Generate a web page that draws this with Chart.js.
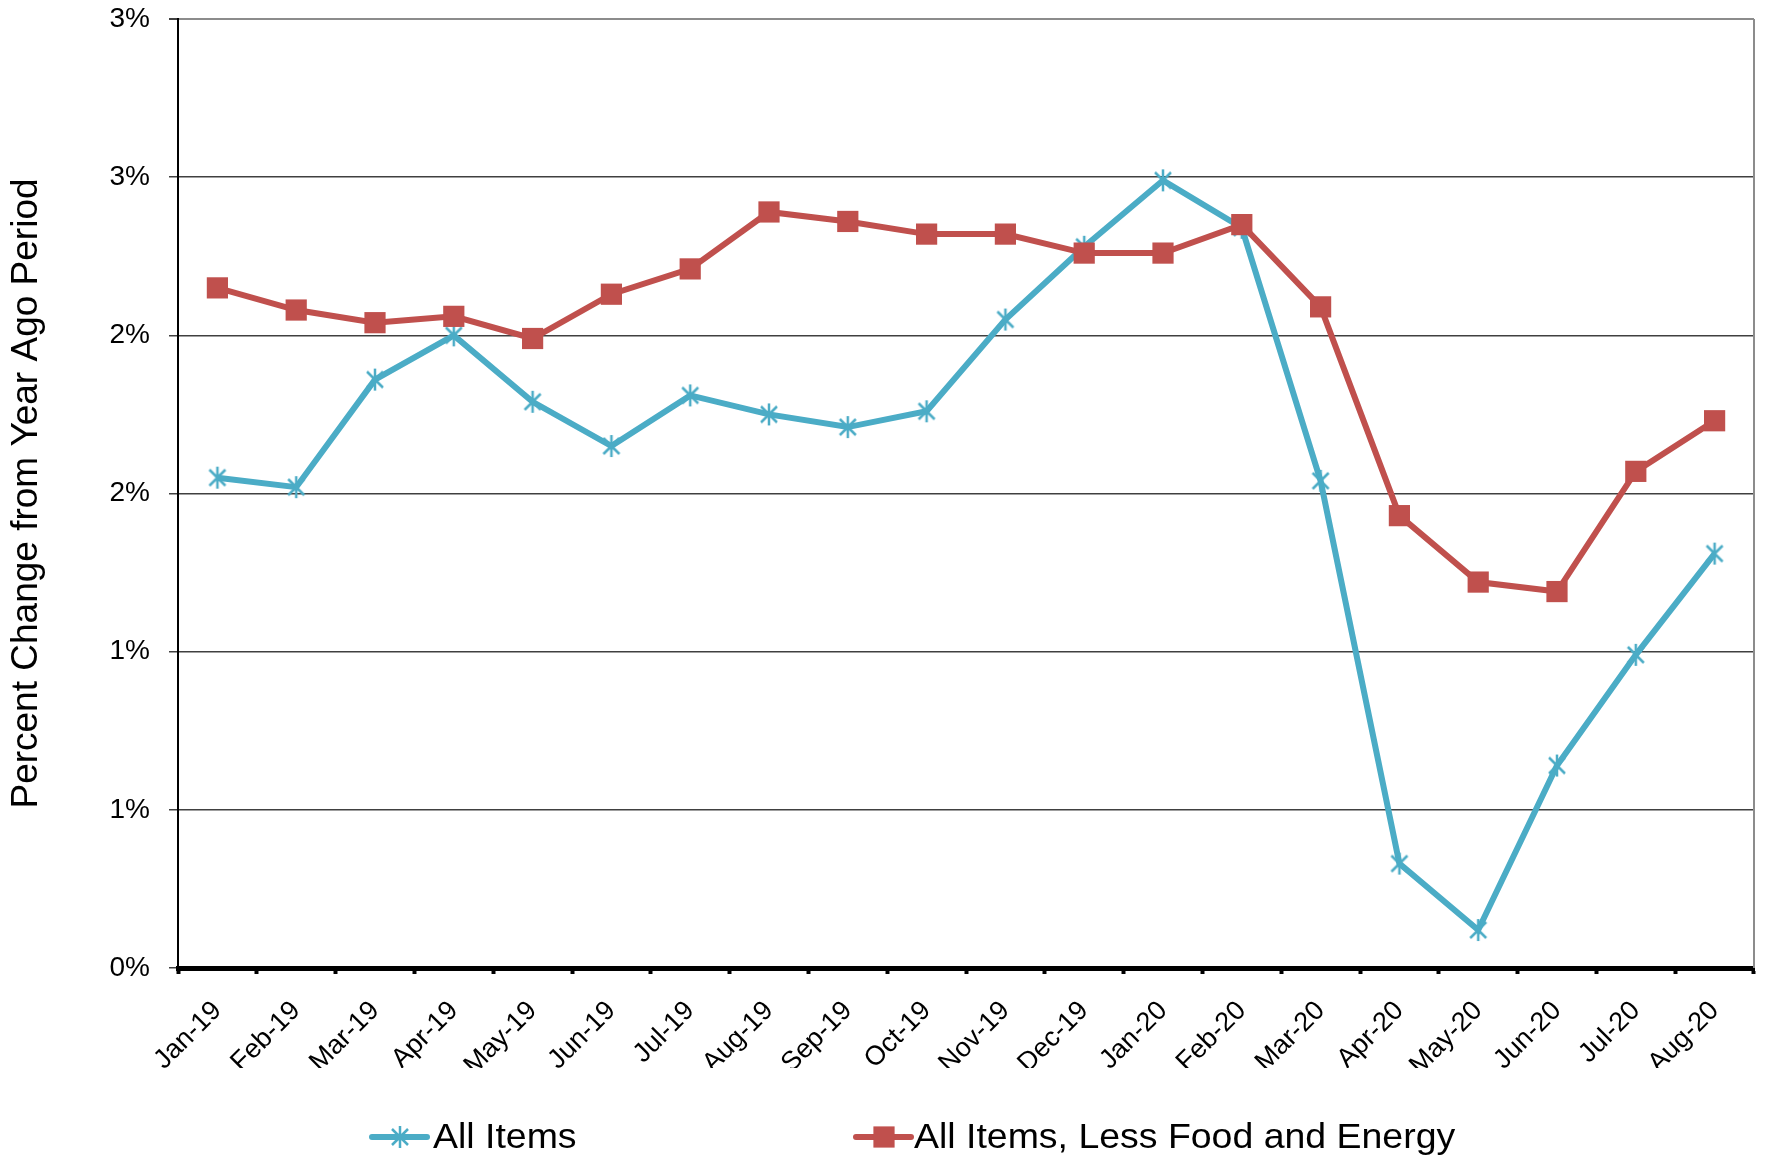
<!DOCTYPE html>
<html>
<head>
<meta charset="utf-8">
<title>CPI - Percent Change from Year Ago Period</title>
<script src="https://cdn.jsdelivr.net/npm/chart.js"></script>
<style>
  html, body { margin: 0; padding: 0; background: #fff; }
  #wrap { width: 1770px; height: 1158px; }
</style>
</head>
<body>
<div id="wrap"><canvas id="cpiChart" width="1770" height="1158"></canvas></div>
<script>
/* ---------- DATA ---------- */
const months = [
  'Jan-19', 'Feb-19', 'Mar-19', 'Apr-19', 'May-19', 'Jun-19', 'Jul-19', 'Aug-19', 'Sep-19', 'Oct-19',
  'Nov-19', 'Dec-19', 'Jan-20', 'Feb-20', 'Mar-20', 'Apr-20', 'May-20', 'Jun-20', 'Jul-20', 'Aug-20'
];

// All Items (percent)
const allItems = [
  1.55, 1.52, 1.86, 2.00, 1.79, 1.65, 1.81, 1.75, 1.71, 1.76,
  2.05, 2.28, 2.49, 2.34, 1.54, 0.33, 0.12, 0.64, 0.99, 1.31
];

// All Items, Less Food and Energy (percent)
const coreItems = [
  2.15, 2.08, 2.04, 2.06, 1.99, 2.13, 2.21, 2.39, 2.36, 2.32,
  2.32, 2.26, 2.26, 2.35, 2.09, 1.43, 1.22, 1.19, 1.57, 1.73
];

const seriesNames = ['All Items', 'All Items, Less Food and Energy'];

// the source chart rounds its axis labels to whole percents
const yTickLabels = ['0%', '1%', '1%', '2%', '2%', '3%', '3%'];

/* ---------- STYLE ---------- */
const FONT = '"Liberation Sans", Arial, Helvetica, sans-serif';
const BLUE = '#4BACC6';
const RED = '#C0504D';
const legendX = [372, 856];
const legendTextGap = [61, 58];
const legendY = 1137;

// spreadsheet-style star marker: an X with a vertical stroke
function makeStar(color) {
  const c = document.createElement('canvas');
  c.width = 24; c.height = 24;
  const g = c.getContext('2d');
  g.strokeStyle = color;
  g.lineWidth = 2.5;
  g.beginPath();
  g.moveTo(4, 4); g.lineTo(20, 20);
  g.moveTo(20, 4); g.lineTo(4, 20);
  g.moveTo(12, 1); g.lineTo(12, 23);
  g.stroke();
  return c;
}
const starMarker = makeStar(BLUE);

/* ---------- PLUGINS ---------- */
// gray frame on the right side of the plot area
const plotFrame = {
  id: 'plotFrame',
  beforeDatasetsDraw(chart) {
    const a = chart.chartArea;
    const ctx = chart.ctx;
    ctx.save();
    ctx.strokeStyle = '#8c8c8c';
    ctx.lineWidth = 2;
    ctx.beginPath();
    ctx.moveTo(a.right, a.top);
    ctx.lineTo(a.right, a.bottom);
    ctx.stroke();
    ctx.restore();
  }
};

// legend drawn as line + marker, like the spreadsheet legend
const lineLegend = {
  id: 'lineLegend',
  afterDraw(chart) {
    const ctx = chart.ctx;
    ctx.save();
    chart.data.datasets.forEach((ds, i) => {
      const x0 = legendX[i];
      const y = legendY;
      ctx.strokeStyle = ds.borderColor;
      ctx.lineWidth = 6;
      ctx.lineCap = 'round';
      ctx.beginPath();
      ctx.moveTo(x0, y);
      ctx.lineTo(x0 + 55, y);
      ctx.stroke();
      ctx.lineCap = 'butt';
      const cx = x0 + 28;
      if (ds.pointStyle instanceof HTMLCanvasElement) {
        ctx.drawImage(ds.pointStyle, cx - 12, y - 12);
      } else {
        const s = ds.pointRadius * Math.SQRT1_2;
        ctx.fillStyle = ds.pointBackgroundColor;
        ctx.fillRect(cx - s, y - s, 2 * s, 2 * s);
      }
      ctx.save();
      ctx.fillStyle = '#000';
      ctx.font = '35px ' + FONT;
      ctx.textAlign = 'left';
      ctx.textBaseline = 'middle';
      ctx.translate(x0 + legendTextGap[i], y + 1);
      ctx.scale(1.07, 1);
      ctx.fillText(ds.label, 0, 0);
      ctx.restore();
    });
    ctx.restore();
  }
};

/* ---------- CHART ---------- */
const data = {
  labels: months,
  datasets: [
    {
      label: seriesNames[0],
      data: allItems,
      borderColor: BLUE,
      backgroundColor: BLUE,
      borderWidth: 6,
      pointStyle: starMarker,
      pointRadius: 10,
      pointBackgroundColor: BLUE,
      pointBorderColor: BLUE,
      order: 1
    },
    {
      label: seriesNames[1],
      data: coreItems,
      borderColor: RED,
      backgroundColor: RED,
      borderWidth: 6,
      pointStyle: 'rect',
      pointRadius: 15,
      pointBorderWidth: 0,
      pointBackgroundColor: RED,
      pointBorderColor: RED,
      order: 0
    }
  ]
};

const config = {
  type: 'line',
  data: data,
  options: {
    responsive: false,
    animation: false,
    layout: { padding: { left: 0, right: 12, top: 19, bottom: 90 } },
    plugins: {
      legend: { display: false },
      tooltip: { enabled: false }
    },
    scales: {
      x: {
        type: 'category',
        offset: true,
        grid: {
          offset: true,
          drawOnChartArea: false,
          drawTicks: true,
          tickLength: 6,
          tickWidth: 4,
          tickColor: '#000'
        },
        border: { display: true, color: '#000', width: 5 },
        ticks: {
          autoSkip: false,
          maxRotation: 45,
          minRotation: 45,
          padding: 21,
          color: '#000',
          font: { family: FONT, size: 27 }
        },
        afterFit(scale) { scale.height = 100; }
      },
      y: {
        min: 0,
        max: 3,
        ticks: {
          stepSize: 0.5,
          padding: 19,
          color: '#000',
          font: { family: FONT, size: 28 },
          callback: (value, index) => yTickLabels[index]
        },
        grid: {
          color: ctx => (ctx.index === 6 ? '#8c8c8c' : '#404040'),
          lineWidth: ctx => (ctx.index === 6 ? 2 : 1.5),
          tickColor: '#404040',
          tickLength: 9,
          drawTicks: true
        },
        border: { display: true, color: '#000', width: 2 },
        title: {
          display: true,
          text: 'Percent Change from Year Ago Period',
          color: '#000',
          font: { family: FONT, size: 37 },
          padding: { top: 5, bottom: 0 }
        },
        afterFit(scale) {
          scale.width = 178;
          scale.paddingTop = 0;
          scale.paddingBottom = 0;
        }
      }
    }
  },
  plugins: [plotFrame, lineLegend]
};

new Chart(document.getElementById('cpiChart').getContext('2d'), config);
</script>
</body>
</html>
